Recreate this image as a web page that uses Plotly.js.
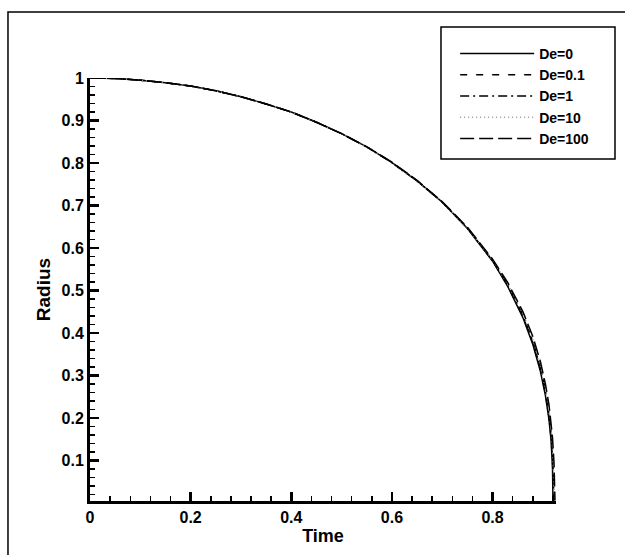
<!DOCTYPE html>
<html>
<head>
<meta charset="utf-8">
<script src="https://cdn.plot.ly/plotly-3.0.1.min.js"></script>
<style>html,body{margin:0;padding:0;background:#fff;}#chart{width:625px;height:555px;}</style>
</head>
<body>
<div id="chart"></div>
<script>
// Series (Time vs. Radius)
const seriesNames = ["De=0", "De=0.1", "De=1", "De=10", "De=100"];

const timeDe0   = [0, 0.05, 0.1, 0.15, 0.2, 0.25, 0.3, 0.35, 0.4, 0.45, 0.5, 0.55, 0.6, 0.65, 0.7, 0.75, 0.8, 0.83, 0.86, 0.88, 0.895, 0.905, 0.912, 0.916, 0.919, 0.92];
const radiusDe0 = [1, 0.999, 0.995, 0.989, 0.981, 0.97, 0.956, 0.939, 0.92, 0.896, 0.869, 0.838, 0.801, 0.758, 0.708, 0.646, 0.569, 0.51, 0.437, 0.373, 0.31, 0.253, 0.197, 0.15, 0.086, 0.006];

const timeDe01   = [0, 0.05, 0.1, 0.15, 0.2, 0.25, 0.3, 0.35, 0.4, 0.45, 0.5, 0.55, 0.6, 0.65, 0.7, 0.75, 0.8, 0.83, 0.86, 0.88, 0.895, 0.905, 0.912, 0.916, 0.919, 0.921];
const radiusDe01 = [1, 0.999, 0.995, 0.989, 0.981, 0.97, 0.956, 0.939, 0.92, 0.896, 0.869, 0.838, 0.801, 0.758, 0.708, 0.647, 0.57, 0.512, 0.44, 0.377, 0.315, 0.258, 0.203, 0.158, 0.1, 0.006];

const timeDe1   = [0, 0.05, 0.1, 0.15, 0.2, 0.25, 0.3, 0.35, 0.4, 0.45, 0.5, 0.55, 0.6, 0.65, 0.7, 0.75, 0.8, 0.83, 0.86, 0.88, 0.895, 0.905, 0.912, 0.916, 0.919, 0.921, 0.922];
const radiusDe1 = [1, 0.999, 0.995, 0.989, 0.981, 0.97, 0.956, 0.939, 0.92, 0.896, 0.869, 0.838, 0.801, 0.758, 0.708, 0.647, 0.571, 0.514, 0.443, 0.381, 0.32, 0.265, 0.212, 0.17, 0.118, 0.06, 0.006];

const timeDe10   = [0, 0.05, 0.1, 0.15, 0.2, 0.25, 0.3, 0.35, 0.4, 0.45, 0.5, 0.55, 0.6, 0.65, 0.7, 0.75, 0.8, 0.83, 0.86, 0.88, 0.895, 0.905, 0.912, 0.916, 0.919, 0.922, 0.923];
const radiusDe10 = [1, 0.999, 0.995, 0.989, 0.981, 0.97, 0.956, 0.939, 0.92, 0.896, 0.869, 0.838, 0.801, 0.758, 0.708, 0.647, 0.572, 0.516, 0.446, 0.386, 0.325, 0.27, 0.22, 0.18, 0.135, 0.06, 0.006];

const timeDe100   = [0, 0.05, 0.1, 0.15, 0.2, 0.25, 0.3, 0.35, 0.4, 0.45, 0.5, 0.55, 0.6, 0.65, 0.7, 0.75, 0.8, 0.83, 0.86, 0.88, 0.895, 0.905, 0.912, 0.916, 0.919, 0.922, 0.924];
const radiusDe100 = [1, 0.999, 0.995, 0.989, 0.981, 0.97, 0.956, 0.939, 0.92, 0.896, 0.869, 0.838, 0.802, 0.759, 0.709, 0.649, 0.574, 0.519, 0.451, 0.392, 0.333, 0.28, 0.232, 0.195, 0.155, 0.095, 0.006];

const xTickVals = [0, 0.2, 0.4, 0.6, 0.8];
const yTickVals = [0.1, 0.2, 0.3, 0.4, 0.5, 0.6, 0.7, 0.8, 0.9, 1];

const times = [timeDe0, timeDe01, timeDe1, timeDe10, timeDe100];
const radii = [radiusDe0, radiusDe01, radiusDe1, radiusDe10, radiusDe100];
const dashes = ["solid", "7px,9px", "9px,4px,2px,4px", "1px,3px", "14px,5px"];
const colors = ["#000", "#000", "#000", "#9a9a9a", "#000"];

const traces = seriesNames.map((n, i) => ({
  x: times[i], y: radii[i], name: n, type: "scatter", mode: "lines",
  line: {color: colors[i], width: 1.5, dash: dashes[i]}
}));

const FONT = "Liberation Sans, Arial, Helvetica, sans-serif";

const layout = {
  width: 625, height: 555,
  margin: {l: 90, r: 69, t: 78, b: 54},
  paper_bgcolor: "#fff", plot_bgcolor: "#fff",
  font: {family: FONT, color: "#000"},
  showlegend: true,
  legend: {
    x: 0.7836, y: 0.9574, xanchor: "left", yanchor: "middle",
    bgcolor: "rgba(0,0,0,0)", borderwidth: 0,
    font: {family: FONT, size: 14, weight: "bold", color: "#000"},
    itemwidth: 74, tracegroupgap: 0
  },
  xaxis: {
    range: [0, 0.926], tickvals: xTickVals, ticks: "inside", ticklen: 9, tickwidth: 2.5,
    tickcolor: "#000", showline: true, linewidth: 3, linecolor: "#000",
    showgrid: false, zeroline: false,
    tickfont: {family: FONT, size: 16, weight: "bold"},
    minor: {dtick: 0.04, tick0: 0, ticks: "inside", ticklen: 5, tickwidth: 1.5, tickcolor: "#000", showgrid: false},
    title: {text: "Time", font: {family: FONT, size: 18, weight: "bold"}, standoff: 0}
  },
  yaxis: {
    range: [0.005, 1], tickvals: yTickVals, ticks: "inside", ticklen: 9, tickwidth: 2.5,
    tickcolor: "#000", showline: true, linewidth: 3, linecolor: "#000",
    showgrid: false, zeroline: false,
    tickfont: {family: FONT, size: 16, weight: "bold"},
    minor: {dtick: 0.02, tick0: 0, ticks: "inside", ticklen: 5, tickwidth: 1.5, tickcolor: "#000", showgrid: false},
    title: {text: "Radius", font: {family: FONT, size: 19, weight: "bold"}, standoff: 6}
  },
  shapes: [
    {type: "rect", xref: "paper", yref: "paper", x0: -0.176, x1: 1.16, y0: -0.14, y1: 1.156,
     line: {color: "#000", width: 1.5}, fillcolor: "rgba(0,0,0,0)", layer: "below"},
    {type: "rect", xref: "paper", yref: "paper", x0: 0.7532, x1: 1.1266, y0: 0.8085, y1: 1.1206,
     line: {color: "#000", width: 1.5}, fillcolor: "rgba(0,0,0,0)", layer: "below"}
  ]
};

Plotly.newPlot("chart", traces, layout, {displayModeBar: false, staticPlot: true});
</script>
</body>
</html>
